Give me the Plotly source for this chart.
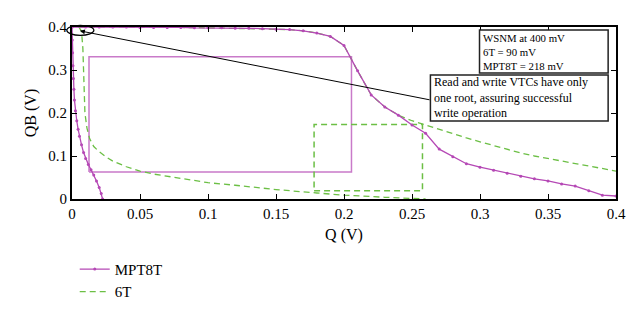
import plotly.graph_objects as go

# ---------------- data ----------------
# MPT8T curve 1 (top, falling to the right)
mpt_top_x = [0.00, 0.01, 0.02, 0.03, 0.04, 0.05, 0.06, 0.07, 0.08, 0.09, 0.10,
             0.11, 0.12, 0.13, 0.14, 0.15, 0.16, 0.17, 0.18, 0.19, 0.20,
             0.21, 0.22, 0.23, 0.24, 0.25, 0.26, 0.27, 0.28, 0.29, 0.30,
             0.31, 0.32, 0.33, 0.34, 0.35, 0.36, 0.37, 0.38, 0.39, 0.40]
mpt_top_y = [0.400, 0.400, 0.400, 0.400, 0.400, 0.399, 0.399, 0.399, 0.399, 0.398, 0.398,
             0.398, 0.397, 0.397, 0.396, 0.395, 0.394, 0.391, 0.386, 0.378, 0.357,
             0.298, 0.242, 0.214, 0.195, 0.172, 0.153, 0.116, 0.098, 0.082, 0.074,
             0.067, 0.060, 0.053, 0.047, 0.042, 0.035, 0.030, 0.019, 0.009, 0.007]
# MPT8T curve 2 (left, steep)
mpt_left_x = [0.0, 0.0002, 0.0004, 0.0007, 0.001, 0.0014, 0.0018, 0.0025, 0.0035, 0.0045,
              0.0055, 0.007, 0.0085, 0.010, 0.012, 0.014, 0.016, 0.018, 0.020, 0.0215, 0.0225]
mpt_left_y = [0.400, 0.370, 0.340, 0.310, 0.280, 0.255, 0.230, 0.205, 0.182, 0.162,
              0.146, 0.126, 0.108, 0.094, 0.080, 0.068, 0.056, 0.042, 0.027, 0.013, 0.000]
# 6T curve 1 (top)
t6_top_x = [0.005, 0.02, 0.04, 0.06, 0.08, 0.10, 0.12, 0.14, 0.16, 0.17, 0.18, 0.19, 0.20,
            0.21, 0.22, 0.23, 0.24, 0.25, 0.26, 0.27, 0.28, 0.29, 0.30, 0.31, 0.32,
            0.33, 0.34, 0.35, 0.36, 0.37, 0.38, 0.39, 0.40]
t6_top_y = [0.400, 0.400, 0.400, 0.399, 0.399, 0.398, 0.397, 0.396, 0.394, 0.391, 0.386, 0.378, 0.357,
            0.298, 0.242, 0.214, 0.195, 0.182, 0.172, 0.161, 0.151, 0.142, 0.133, 0.124, 0.115,
            0.107, 0.100, 0.094, 0.088, 0.082, 0.076, 0.070, 0.065]
# 6T curve 2 (left, bending to the right)
t6_low_x = [0.005, 0.007, 0.008, 0.0085, 0.009, 0.0095, 0.011, 0.013, 0.016, 0.020, 0.025, 0.030,
            0.040, 0.050, 0.060, 0.080, 0.100, 0.120, 0.150, 0.180, 0.200, 0.230, 0.250, 0.260]
t6_low_y = [0.400, 0.390, 0.350, 0.300, 0.250, 0.200, 0.165, 0.140, 0.122, 0.110, 0.098, 0.088,
            0.075, 0.065, 0.058, 0.048, 0.038, 0.032, 0.022, 0.014, 0.009, 0.004, 0.001, 0.000]
# noise-margin squares [x0, x1, y0, y1]
mpt_box = [0.0125, 0.2055, 0.063, 0.331]
t6_box = [0.178, 0.2577, 0.019, 0.173]

x_ticks = [0, 0.05, 0.1, 0.15, 0.2, 0.25, 0.3, 0.35, 0.4]
x_tick_text = ["0", "0.05", "0.1", "0.15", "0.2", "0.25", "0.3", "0.35", "0.4"]
y_ticks = [0, 0.1, 0.2, 0.3, 0.4]
y_tick_text = ["0", "0.1", "0.2", "0.3", "0.4"]

info_lines = ["WSNM at 400 mV", "6T = 90 mV", "MPT8T = 218 mV"]
note_lines = ["Read and write VTCs have only", "one root, assuring successful", "write operation"]

MAG = "#b548b5"
MAG_LIGHT = "#c97ac9"
GRN = "#6cbf45"
FONT = "Liberation Serif, Times New Roman, DejaVu Serif, serif"

# plot area in window pixels (page body adds an 8px offset)
PX_L, PX_R, PX_T, PX_B = 72, 626, 19, 191
def px(xp):
    return (xp - PX_L) / (PX_R - PX_L)
def py(yp):
    return (PX_B - yp) / (PX_B - PX_T)

fig = go.Figure()

def box_xy(b):
    return [b[0], b[1], b[1], b[0], b[0]], [b[2], b[2], b[3], b[3], b[2]]

bx, by = box_xy(mpt_box)
fig.add_trace(go.Scatter(x=bx, y=by, mode="lines", line=dict(color=MAG_LIGHT, width=1.5),
                         showlegend=False, hoverinfo="skip"))
bx, by = box_xy(t6_box)
fig.add_trace(go.Scatter(x=bx, y=by, mode="lines", line=dict(color=GRN, width=1.5, dash="6px,4px"),
                         showlegend=False, hoverinfo="skip"))

fig.add_trace(go.Scatter(x=t6_top_x, y=t6_top_y, mode="lines", name="6T", legendgroup="6T",
                         line=dict(color=GRN, width=1.3, dash="6px,4px"), showlegend=False))
fig.add_trace(go.Scatter(x=t6_low_x, y=t6_low_y, mode="lines", name="6T", legendgroup="6T",
                         line=dict(color=GRN, width=1.3, dash="6px,4px"), showlegend=False))

fig.add_trace(go.Scatter(x=mpt_top_x, y=mpt_top_y, mode="lines+markers", name="MPT8T",
                         legendgroup="MPT8T", line=dict(color=MAG, width=1.3),
                         marker=dict(color=MAG, size=3)))
fig.add_trace(go.Scatter(x=mpt_left_x, y=mpt_left_y, mode="lines+markers", name="MPT8T",
                         legendgroup="MPT8T", line=dict(color=MAG, width=1.3),
                         marker=dict(color=MAG, size=3), showlegend=False))
# legend entry for 6T
fig.add_trace(go.Scatter(x=[None], y=[None], mode="lines", name="6T", legendgroup="6T",
                         line=dict(color=GRN, width=1.3, dash="6px,4px")))

# ellipse around the origin corner
fig.add_shape(type="circle", xref="paper", yref="paper",
              x0=px(66.7), x1=px(94.3), y0=py(27.3), y1=py(17.3),
              line=dict(color="black", width=1.2))

# pointer line
fig.add_annotation(x=0.0058, y=0.391, ax=0.264, ay=0.230, xref="x", yref="y",
                   axref="x", ayref="y", text="", showarrow=True, arrowhead=2,
                   arrowsize=1, arrowwidth=1, arrowcolor="black")

# text boxes
fig.add_shape(type="rect", xref="paper", yref="paper",
              x0=px(487), x1=px(618), y0=py(65), y1=py(22),
              line=dict(color="#222222", width=1.5), fillcolor="white", layer="above")
fig.add_shape(type="rect", xref="paper", yref="paper",
              x0=px(437), x1=px(618), y0=py(113), y1=py(67),
              line=dict(color="#222222", width=1.5), fillcolor="white", layer="above")

fig.add_annotation(xref="paper", yref="paper", x=px(490), y=py(43.5), text="<br>".join(info_lines),
                   xanchor="left", yanchor="middle", align="left", showarrow=False,
                   font=dict(family=FONT, size=10.8, color="black"), borderpad=0)
fig.add_annotation(xref="paper", yref="paper", x=px(440), y=py(90), text="<br>".join(note_lines),
                   xanchor="left", yanchor="middle", align="left", showarrow=False,
                   font=dict(family=FONT, size=12, color="black"), borderpad=0)

axis_common = dict(showline=True, linecolor="black", linewidth=2, mirror="ticks",
                   ticks="inside", ticklen=5, tickcolor="black", tickwidth=1,
                   showgrid=False, zeroline=False,
                   tickfont=dict(family=FONT, size=15, color="black"))

fig.update_xaxes(range=[0, 0.4], tickvals=x_ticks, ticktext=x_tick_text,
                 title=dict(text="Q (V)", font=dict(family=FONT, size=16, color="black"), standoff=8),
                 **axis_common)
fig.update_yaxes(range=[0, 0.4], tickvals=y_ticks, ticktext=y_tick_text,
                 title=dict(text="QB (V)", font=dict(family=FONT, size=16, color="black"), standoff=8),
                 **axis_common)

# page body has an 8px margin, so the figure is sized/offset to compensate
fig.update_layout(
    width=629, height=318,
    margin=dict(l=64, r=11, t=11, b=127),
    plot_bgcolor="white", paper_bgcolor="white",
    font=dict(family=FONT, color="black"),
    legend=dict(x=0.005, y=-0.313, xanchor="left", yanchor="top",
                font=dict(family=FONT, size=15, color="black"),
                bgcolor="rgba(0,0,0,0)", tracegroupgap=0),
)

fig.write_html("out.html")
